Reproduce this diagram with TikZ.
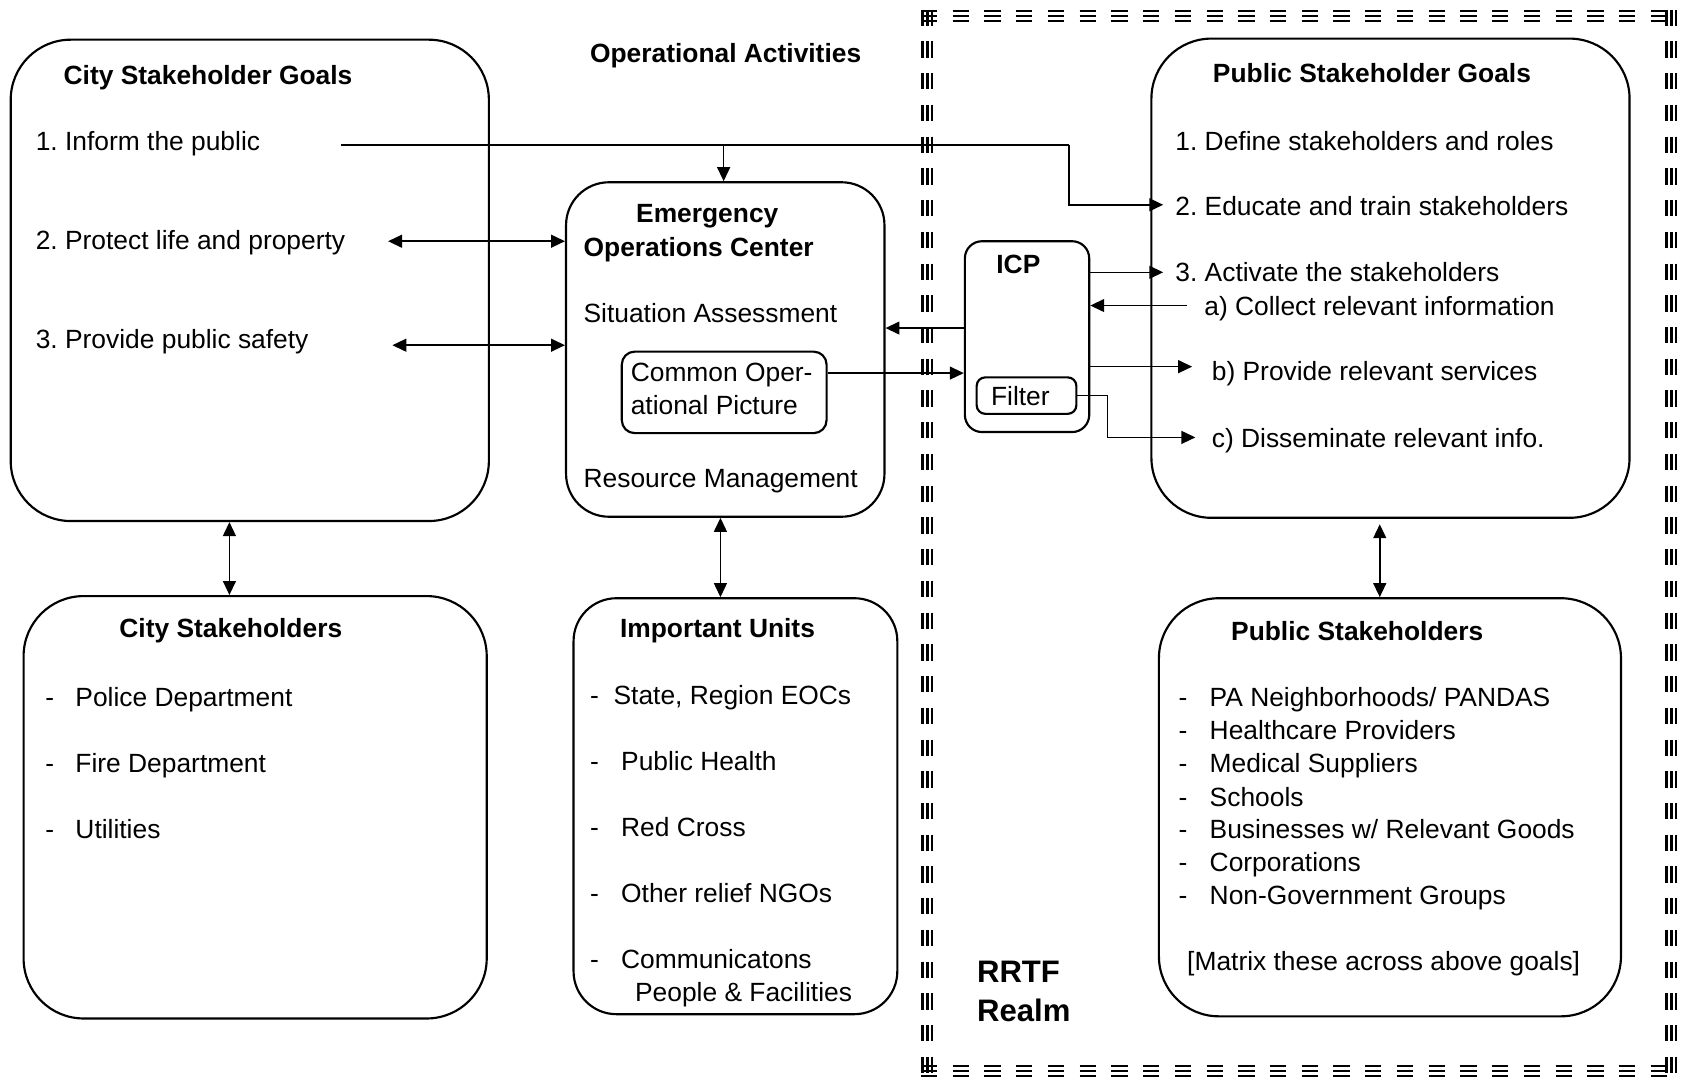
\documentclass[tikz,border=0pt]{standalone}
\usepackage{fontspec}
\setmainfont{Liberation Sans}
\usetikzlibrary{arrows.meta}
\frenchspacing
\tikzset{
  box/.style={draw, line width=1pt, inner sep=0pt},
  txt/.style={anchor=base west, inner sep=0pt, font=\fontsize{12.3pt}{14pt}\selectfont},
  ttl/.style={anchor=base west, inner sep=0pt, font=\fontsize{12.3pt}{14pt}\selectfont\bfseries},
  big/.style={anchor=base west, inner sep=0pt, font=\fontsize{14.5pt}{17pt}\selectfont\bfseries},
  conn/.style={line width=0.75pt},
  arr/.style={line width=0.75pt, -{Triangle[length=6.5pt,width=6pt]}},
  dbl/.style={line width=0.75pt, {Triangle[length=6.5pt,width=6pt]}-{Triangle[length=6.5pt,width=6pt]}},
  realm/.style={line width=1.1pt, dash pattern=on 7.6pt off 7.2pt}
}
\begin{document}
\begin{tikzpicture}[x=0.5pt,y=-0.5pt]
\useasboundingbox (0,0) rectangle (1568,1007.4);

% realm border
\foreach \o in {-4.5,0,4.5}{
  \draw[realm] (865+\o,9) -- (865+\o,1005);
  \draw[realm] (1559+\o,9) -- (1559+\o,1005);
  \draw[realm] (859,15+\o) -- (1565,15+\o);
  \draw[realm] (859,999+\o) -- (1565,999+\o);
}

% boxes
\node[box, rounded corners=28pt, minimum width=223pt, minimum height=224.5pt] (cg) at (233,261.5) {};
\node[box, rounded corners=28pt, minimum width=216pt, minimum height=197pt] (cs) at (238,753) {};
\node[box, rounded corners=20pt, minimum width=148.5pt, minimum height=156pt] (eoc) at (676.5,326) {};
\node[box, rounded corners=20pt, minimum width=151pt, minimum height=194pt] (iu) at (686,752) {};
\node[box, rounded corners=28pt, minimum width=223pt, minimum height=223.5pt] (psg) at (1297,259.5) {};
\node[box, rounded corners=28pt, minimum width=215.5pt, minimum height=195pt] (ps) at (1296.5,753) {};
\node[box, rounded corners=8pt, minimum width=58pt, minimum height=89pt] (icp) at (958,314) {};
\node[box, rounded corners=4pt, minimum width=46.5pt, minimum height=17pt] (filt) at (957.5,369) {};
\node[box, rounded corners=6pt, minimum width=95.5pt, minimum height=38pt] (cop) at (675.5,366) {};

% texts
\node[ttl] (opact) at (550,58) {Operational Activities};
\node[ttl] (cgt) at (59,79) {City Stakeholder Goals};
\node[txt] (cg1) at (33,140) {1. Inform the public};
\node[txt] (cg2) at (33,233) {2. Protect life and property};
\node[txt] (cg3) at (33,325) {3. Provide public safety};

\node[ttl] (cst) at (111,595) {City Stakeholders};
\node[txt] (csd1) at (42,659) {-};
\node[txt] (cs1) at (70,659) {Police Department};
\node[txt] (csd2) at (42,721) {-};
\node[txt] (cs2) at (70,721) {Fire Department};
\node[txt] (csd3) at (42,782) {-};
\node[txt] (cs3) at (70,782) {Utilities};

\node[ttl] (eoct1) at (593,208) {Emergency};
\node[ttl] (eoct2) at (544,239) {Operations Center};
\node[txt] (sa) at (544,301) {Situation Assessment};
\node[txt] (cop1) at (588,356) {Common Oper-};
\node[txt] (cop2) at (588,387) {ational Picture};
\node[txt] (rm) at (544,455) {Resource Management};

\node[ttl] (iut) at (578,595) {Important Units};
\node[txt] (iud1) at (550,657) {-};
\node[txt] (iu1) at (572,657) {State, Region EOCs};
\node[txt] (iud2) at (550,719) {-};
\node[txt] (iu2) at (579,719) {Public Health};
\node[txt] (iud3) at (550,780) {-};
\node[txt] (iu3) at (579,780) {Red Cross};
\node[txt] (iud4) at (550,842) {-};
\node[txt] (iu4) at (579,842) {Other relief NGOs};
\node[txt] (iud5) at (550,903) {-};
\node[txt] (iu5) at (579,903) {Communicatons};
\node[txt] (iu6) at (592,934) {People \& Facilities};

\node[ttl] (icpt) at (929,255) {ICP};
\node[txt] (filtt) at (924,378) {Filter};

\node[ttl] (psgt) at (1131,77) {Public Stakeholder Goals};
\node[txt] (pg1) at (1096,140) {1. Define stakeholders and roles};
\node[txt] (pg2) at (1096,201) {2. Educate and train stakeholders};
\node[txt] (pg3) at (1096,263) {3. Activate the stakeholders};
\node[txt] (pga) at (1123,294) {a) Collect relevant information};
\node[txt] (pgb) at (1130,355) {b) Provide relevant services};
\node[txt] (pgc) at (1130,417) {c) Disseminate relevant info.};

\node[ttl] (pst) at (1148,597) {Public Stakeholders};
\node[txt] (psd1) at (1099,659) {-};
\node[txt] (ps1) at (1128,659) {PA Neighborhoods/ PANDAS};
\node[txt] (psd2) at (1099,690) {-};
\node[txt] (ps2) at (1128,690) {Healthcare Providers};
\node[txt] (psd3) at (1099,721) {-};
\node[txt] (ps3) at (1128,721) {Medical Suppliers};
\node[txt] (psd4) at (1099,752) {-};
\node[txt] (ps4) at (1128,752) {Schools};
\node[txt] (psd5) at (1099,782) {-};
\node[txt] (ps5) at (1128,782) {Businesses w/ Relevant Goods};
\node[txt] (psd6) at (1099,813) {-};
\node[txt] (ps6) at (1128,813) {Corporations};
\node[txt] (psd7) at (1099,844) {-};
\node[txt] (ps7) at (1128,844) {Non-Government Groups};
\node[txt] (psm) at (1107,905) {[Matrix these across above goals]};

\node[big] (rr1) at (911,916) {RRTF};
\node[big] (rr2) at (911,953) {Realm};

% connectors
\coordinate (inf) at (318,135);
\coordinate (j1) at (675,135);
\coordinate (j2) at (997,135);
\coordinate (t2) at (1085,191);
\draw[conn] (inf) -- (j2);
\draw[arr] (j1) -- (j1 |- eoc.north);
\draw[arr] (j2) |- (t2);

\coordinate (p2) at (362,225);
\coordinate (p3) at (366,322);
\draw[dbl] (p2) -- (p2 -| eoc.west);
\draw[dbl] (p3) -- (p3 -| eoc.west);

\coordinate (v1) at (214,0);
\draw[dbl] (v1 |- cg.south) -- (v1 |- cs.north);
\coordinate (v2) at (672,0);
\draw[dbl] (v2 |- eoc.south) -- (v2 |- iu.north);
\coordinate (v3) at (1287,489);
\draw[dbl] (v3) -- (v3 |- ps.north);

\coordinate (h1) at (0,306);
\draw[arr] (h1 -| icp.west) -- (h1 -| eoc.east);
\coordinate (h2) at (0,348);
\draw[arr] (h2 -| cop.east) -- (h2 -| icp.west);
\coordinate (t3) at (1085,254);
\draw[arr] (t3 -| icp.east) -- (t3);
\coordinate (sa1) at (1107,285);
\draw[arr] (sa1) -- (sa1 -| icp.east);
\coordinate (tb) at (1112,342);
\draw[arr] (tb -| icp.east) -- (tb);
\coordinate (bend) at (1033,369);
\coordinate (tc) at (1115,408);
\draw[arr] (filt.east |- bend) -- (bend) |- (tc);

\end{tikzpicture}
\end{document}
